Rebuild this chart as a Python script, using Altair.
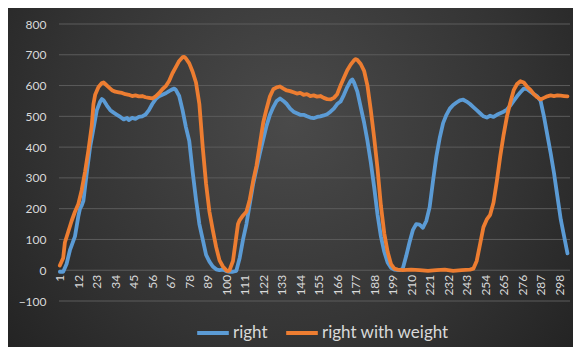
import altair as alt
import pandas as pd

# Sample index (1-based) and reading for each series
right_idx = [1, 3, 5, 7, 8, 10, 12, 13, 14, 15, 17, 19, 21, 23, 25, 26, 27, 29, 31, 33, 35, 37, 39, 41, 42, 44, 46, 48, 50,
             52, 54, 56, 58, 60, 62, 64, 66, 68, 69, 70, 72, 74, 76, 78, 80, 82, 84, 86, 88, 90, 92, 94, 96, 98, 100,
             102, 104, 106, 108, 110, 112, 114, 116, 118, 120, 122, 124, 126, 128, 130, 132, 134, 136, 138, 140, 142,
             144, 146, 148, 150, 152, 154, 156, 158, 160, 162, 164, 166, 168, 170, 172, 174, 175, 176, 178, 180, 182,
             184, 186, 188, 190, 192, 194, 196, 198, 200, 203, 205, 207, 209, 211, 213, 215, 217, 219, 221, 223, 225,
             227, 229, 231, 233, 235, 237, 239, 241, 243, 245, 247, 249, 251, 253, 255, 257, 259, 261, 263, 265, 267,
             269, 271, 273, 275, 277, 279, 281, 283, 285, 287, 289, 291, 293, 295, 297, 299, 301, 303]
right_val = [-5, -5, 20, 65, 80, 110, 175, 200, 210, 225, 315, 400, 460, 520, 548, 556, 552, 535, 520, 512, 505, 498, 490,
             495, 488, 495, 492, 498, 500, 506, 520, 540, 556, 565, 570, 575, 582, 588, 590, 586, 566, 520, 465, 420,
             320, 230, 150, 100, 50, 28, 12, 3, 0, 2, -3, -5, -5, -2, 40, 100, 150, 215, 280, 330, 380, 425, 470, 505,
             530, 550, 558, 550, 540, 525, 515, 510, 505, 505, 500, 496, 494, 498, 500, 503, 507, 515, 525, 540, 548,
             570, 595, 615, 620, 610, 580, 530, 480, 420, 350, 270, 180, 110, 60, 25, 8, 2, 0, 5, 45, 90, 130, 150,
             148, 138, 160, 205, 290, 370, 430, 478, 505, 525, 537, 545, 552, 554, 548, 540, 530, 520, 510, 500, 496,
             502, 498, 505, 510, 515, 522, 535, 550, 565, 578, 590, 588, 580, 572, 565, 550, 500, 440, 380, 315, 240,
             165, 110, 55]

weight_idx = [1, 3, 4, 6, 8, 10, 12, 14, 16, 18, 20, 21, 22, 24, 26, 27, 28, 30, 32, 34, 36, 38, 40, 42, 44, 46, 48, 50,
              52, 54, 56, 58, 60, 62, 64, 66, 68, 70, 72, 74, 75, 76, 78, 80, 82, 84, 86, 88, 90, 92, 94, 96, 98, 100,
              101, 102, 104, 106, 107, 108, 110, 112, 114, 116, 118, 120, 122, 124, 126, 128, 130, 132, 134, 136, 138,
              140, 142, 144, 146, 148, 150, 152, 154, 156, 158, 160, 162, 164, 166, 168, 170, 172, 174, 176, 177, 178,
              180, 182, 184, 186, 188, 190, 192, 194, 196, 198, 200, 202, 205, 210, 215, 220, 225, 230, 235, 240, 245,
              247, 249, 251, 253, 255, 257, 259, 261, 263, 265, 267, 269, 271, 273, 275, 277, 279, 281, 283, 285, 287,
              289, 291, 293, 295, 297, 299, 301, 303]
weight_val = [15, 40, 90, 125, 160, 190, 215, 260, 320, 390, 470, 540, 570, 595, 608, 610, 605, 595, 585, 580, 578, 576,
              572, 570, 566, 568, 565, 566, 562, 560, 558, 565, 575, 588, 598, 615, 640, 660, 680, 692, 693, 688, 672,
              645, 610, 540, 400, 280, 190, 130, 75, 32, 12, 0, -3, 0, 30, 110, 150, 163, 178, 190, 230, 290, 340, 410,
              480, 525, 565, 588, 594, 597, 590, 584, 582, 578, 574, 576, 570, 572, 566, 568, 564, 566, 560, 556, 555,
              560, 572, 600, 625, 650, 668, 682, 686, 683, 670, 648, 600, 520, 430, 330, 210, 120, 60, 20, 5, 2, 0, 2,
              0, -2, 0, 2, -2, 0, 2, 5, 30, 85, 140, 165, 180, 220, 290, 370, 440, 500, 545, 585, 605, 614, 610, 596,
              586, 572, 562, 555, 560, 565, 568, 566, 568, 567, 566, 565]

series_names = ["right", "right with weight"]
series_colors = ["#5B9BD5", "#ED7D31"]

x_labels = list(range(1, 299, 11))
y_ticks = list(range(-100, 801, 100))

W, H = 511, 277
PAD = {"left": 59, "top": 24, "right": 4, "bottom": 46}
TEXT = "#d9d9d9"
FONT = "Lato"

lines_df = pd.concat([
    pd.DataFrame({"i": right_idx, "v": right_val, "series": series_names[0]}),
    pd.DataFrame({"i": weight_idx, "v": weight_val, "series": series_names[1]}),
])

x_scale = alt.Scale(domain=[0.5, 304.5], nice=False, zero=False)
y_scale = alt.Scale(domain=[-100, 800], nice=False, zero=False)

y_axis = alt.Axis(
    values=y_ticks, grid=False, ticks=False, domain=False, title=None,
    labelPadding=13, labelFontSize=12, labelColor=TEXT, labelFont=FONT, zindex=1,
)

# Dark radial backdrop spanning the whole chart frame
backdrop = alt.Chart(pd.DataFrame({"k": [0]})).mark_rect(
    fill=alt.Gradient(
        gradient="radial",
        stops=[alt.GradientStop(color="#4a4a4a", offset=0),
               alt.GradientStop(color="#333333", offset=0.55),
               alt.GradientStop(color="#1c1c1c", offset=1)],
        x1=0.5, y1=0.4, r1=0, x2=0.5, y2=0.4, r2=0.75,
    )
).encode(
    x=alt.value(-PAD["left"] + 8), x2=alt.value(W + PAD["right"] - 1),
    y=alt.value(-PAD["top"] + 8), y2=alt.value(H + PAD["bottom"]),
)

grid = alt.Chart(pd.DataFrame({"v": y_ticks})).mark_rule(
    stroke="#5c5c5c", strokeWidth=1
).encode(
    y=alt.Y("v:Q", scale=y_scale, axis=y_axis),
)

zero_offset = -H * 100 / 900

lines = alt.Chart(lines_df).mark_line(strokeWidth=3.8, strokeJoin="round", strokeCap="round").encode(
    x=alt.X("i:Q", scale=x_scale, axis=alt.Axis(
        values=x_labels, labelAngle=-90, grid=False, ticks=False, domain=False, title=None,
        offset=zero_offset, labelPadding=4, labelFontSize=12, labelColor=TEXT, labelFont=FONT,
        labelOverlap=False, labelFlush=False, zindex=1,
    )),
    y=alt.Y("v:Q", scale=y_scale, axis=y_axis),
    color=alt.Color("series:N", scale=alt.Scale(domain=series_names, range=series_colors),
                    legend=alt.Legend(
                        title=None, orient="none", direction="horizontal",
                        legendX=136, legendY=291, symbolType="stroke", symbolSize=1000,
                        symbolStrokeWidth=4, labelFontSize=17, labelColor=TEXT, labelFont=FONT,
                        labelOffset=2, columnPadding=10,
                    )),
    order=alt.Order("i:Q"),
)

chart = alt.layer(backdrop, grid, lines).properties(
    width=W, height=H,
    autosize=alt.AutoSizeParams(type="none"),
    padding=PAD,
    background="white",
).configure_view(stroke=None)

chart.save("out.html", embed_options={"renderer": "svg", "actions": False})
